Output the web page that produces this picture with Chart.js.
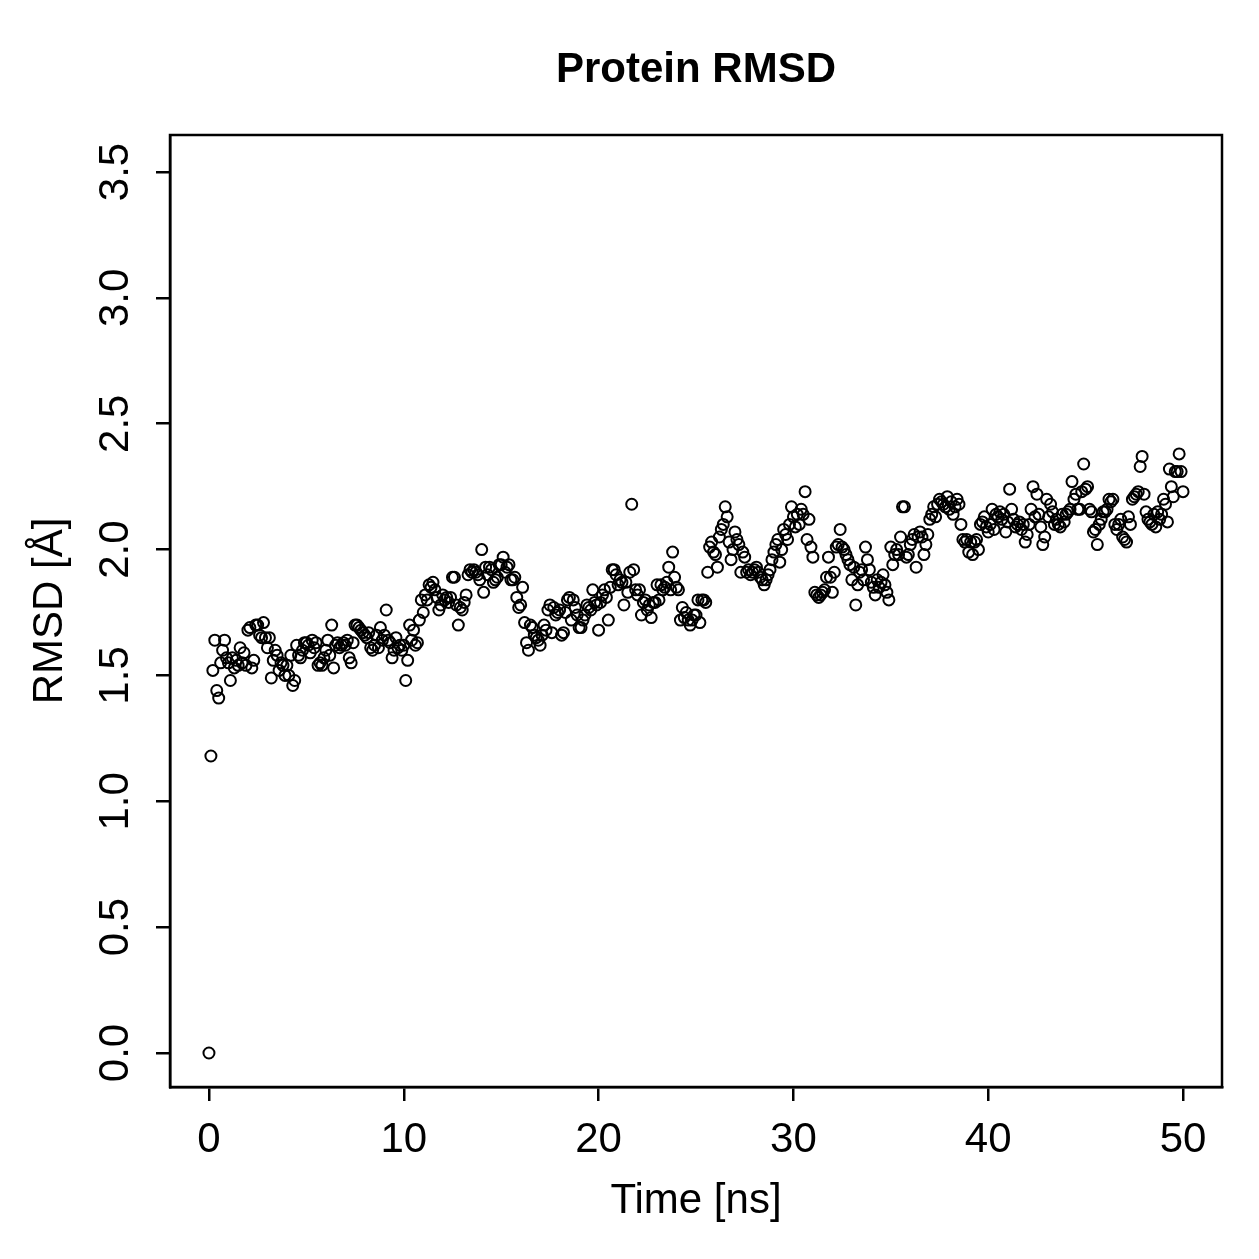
<!DOCTYPE html>
<html>
<head>
<meta charset="utf-8">
<script src="https://cdn.jsdelivr.net/npm/chart.js@4.4.0/dist/chart.umd.min.js"></script>
<style>
  html, body { margin: 0; padding: 0; background: #fff; }
  #wrap { width: 1259px; height: 1259px; }
</style>
</head>
<body>
<div id="wrap"><canvas id="chart"></canvas></div>
<script>
// RMSD values, one frame every 0.1 ns
const timeStart = 0;
const timeStep = 0.1;

const rmsd00to10 = [
  0.00, 1.18, 1.52, 1.64, 1.44, 1.41, 1.55, 1.60, 1.64, 1.57,
  1.55, 1.48, 1.57, 1.53, 1.56, 1.54, 1.61, 1.55, 1.59, 1.54,
  1.68, 1.69, 1.53, 1.56, 1.70, 1.70, 1.66, 1.65, 1.71, 1.65,
  1.61, 1.65, 1.49, 1.56, 1.60, 1.58, 1.52, 1.55, 1.54, 1.50,
  1.54, 1.50, 1.58, 1.46, 1.48, 1.62, 1.58, 1.57, 1.60, 1.63,
  1.63, 1.62, 1.59, 1.64, 1.61, 1.63, 1.54, 1.55, 1.54, 1.57,
  1.60, 1.64, 1.58, 1.70, 1.53, 1.62, 1.63, 1.61, 1.62, 1.63,
  1.62, 1.64, 1.57, 1.55, 1.63, 1.70, 1.70, 1.69, 1.68, 1.67,
  1.66, 1.65, 1.67, 1.61, 1.60, 1.62, 1.66, 1.61, 1.69, 1.64,
  1.66, 1.76, 1.64, 1.63, 1.57, 1.60, 1.65, 1.61, 1.62, 1.60
];
const rmsd10to20 = [
  1.62, 1.48, 1.56, 1.70, 1.64, 1.68, 1.62, 1.63, 1.72, 1.80,
  1.75, 1.82, 1.80, 1.86, 1.85, 1.87, 1.84, 1.81, 1.76, 1.78,
  1.82, 1.80, 1.81, 1.79, 1.81, 1.89, 1.89, 1.78, 1.70, 1.77,
  1.76, 1.79, 1.82, 1.90, 1.92, 1.91, 1.92, 1.91, 1.90, 1.88,
  2.00, 1.83, 1.93, 1.90, 1.93, 1.92, 1.87, 1.88, 1.89, 1.94,
  1.94, 1.97, 1.91, 1.93, 1.94, 1.88, 1.88, 1.89, 1.81, 1.77,
  1.78, 1.85, 1.71, 1.63, 1.60, 1.70, 1.69, 1.66, 1.65, 1.64,
  1.62, 1.66, 1.70, 1.68, 1.76, 1.78, 1.67, 1.77, 1.74, 1.75,
  1.76, 1.66, 1.67, 1.75, 1.80, 1.81, 1.72, 1.80, 1.77, 1.74,
  1.69, 1.69, 1.72, 1.74, 1.78, 1.77, 1.76, 1.84, 1.79, 1.78
];
const rmsd20to30 = [
  1.68, 1.79, 1.82, 1.84, 1.81, 1.72, 1.85, 1.92, 1.92, 1.90,
  1.86, 1.88, 1.87, 1.78, 1.87, 1.83, 1.91, 2.18, 1.92, 1.84,
  1.82, 1.84, 1.74, 1.79, 1.80, 1.76, 1.78, 1.73, 1.79, 1.79,
  1.86, 1.80, 1.86, 1.84, 1.85, 1.87, 1.93, 1.84, 1.99, 1.89,
  1.85, 1.84, 1.72, 1.77, 1.73, 1.75, 1.72, 1.70, 1.72, 1.74,
  1.74, 1.80, 1.71, 1.80, 1.80, 1.79, 1.91, 2.01, 2.03, 1.99,
  1.98, 1.93, 2.05, 2.08, 2.10, 2.17, 2.13, 2.03, 1.96, 2.00,
  2.07, 2.04, 2.02, 1.91, 1.99, 1.97, 1.91, 1.92, 1.90, 1.91,
  1.92, 1.93, 1.91, 1.89, 1.88, 1.86, 1.88, 1.90, 1.92, 1.96,
  1.99, 2.02, 2.04, 1.95, 2.00, 2.08, 2.06, 2.04, 2.10, 2.17
];
const rmsd30to40 = [
  2.13, 2.09, 2.14, 2.10, 2.16, 2.14, 2.23, 2.04, 2.12, 2.01,
  1.97, 1.83, 1.82, 1.81, 1.82, 1.83, 1.84, 1.89, 1.97, 1.89,
  1.83, 1.91, 2.01, 2.02, 2.08, 2.01, 2.00, 1.98, 1.96, 1.94,
  1.88, 1.93, 1.78, 1.86, 1.91, 1.92, 1.88, 2.01, 1.96, 1.92,
  1.87, 1.85, 1.82, 1.88, 1.85, 1.87, 1.90, 1.86, 1.83, 1.80,
  2.01, 1.94, 1.98, 2.00, 1.98, 2.05, 2.17, 2.17, 1.97, 1.98,
  2.02, 2.04, 2.06, 1.93, 2.05, 2.07, 2.05, 1.98, 2.02, 2.06,
  2.12, 2.14, 2.17, 2.13, 2.18, 2.20, 2.19, 2.18, 2.17, 2.21,
  2.16, 2.19, 2.14, 2.17, 2.20, 2.18, 2.10, 2.04, 2.03, 2.04,
  1.99, 2.03, 1.98, 2.03, 2.04, 2.00, 2.10, 2.11, 2.13, 2.09
];
const rmsd40to50 = [
  2.07, 2.10, 2.16, 2.08, 2.14, 2.13, 2.15, 2.12, 2.14, 2.07,
  2.11, 2.24, 2.16, 2.12, 2.09, 2.10, 2.11, 2.08, 2.10, 2.03,
  2.06, 2.10, 2.16, 2.25, 2.13, 2.22, 2.14, 2.09, 2.02, 2.05,
  2.20, 2.13, 2.18, 2.15, 2.10, 2.12, 2.10, 2.09, 2.14, 2.11,
  2.14, 2.15, 2.16, 2.27, 2.20, 2.22, 2.16, 2.16, 2.23, 2.34,
  2.24, 2.25, 2.16, 2.15, 2.07, 2.08, 2.02, 2.10, 2.12, 2.15,
  2.15, 2.16, 2.20, 2.19, 2.20, 2.10, 2.08, 2.10, 2.12, 2.05,
  2.04, 2.03, 2.13, 2.10, 2.20, 2.21, 2.22, 2.23, 2.33, 2.37,
  2.22, 2.15, 2.12, 2.11, 2.10, 2.14, 2.09, 2.15, 2.12, 2.14,
  2.20, 2.18, 2.11, 2.32, 2.25, 2.21, 2.31, 2.31, 2.38, 2.31,
  2.23
];

const xTicks = [0, 10, 20, 30, 40, 50];
const yTicks = [0.0, 0.5, 1.0, 1.5, 2.0, 2.5, 3.0, 3.5];

const rmsd = [].concat(rmsd00to10, rmsd10to20, rmsd20to30, rmsd30to40, rmsd40to50);
const points = rmsd.map((v, i) => ({ x: timeStart + i * timeStep, y: v }));

const FONT = '"Liberation Sans", Arial, Helvetica, sans-serif';
const FS = 42;

// R style box around the plot region
const boxPlugin = {
  id: 'box',
  afterDraw(chart) {
    const { ctx, chartArea: a } = chart;
    ctx.save();
    ctx.strokeStyle = '#000';
    ctx.lineWidth = 2.5;
    ctx.strokeRect(a.left, a.top, a.right - a.left, a.bottom - a.top);
    ctx.restore();
  }
};

const config = {
  type: 'scatter',
  data: {
    datasets: [{
      data: points,
      pointStyle: 'circle',
      pointRadius: 5.5,
      pointBorderWidth: 2,
      pointBorderColor: '#000',
      pointBackgroundColor: 'rgba(0,0,0,0)',
      pointHoverRadius: 5.5
    }]
  },
  options: {
    responsive: true,
    maintainAspectRatio: false,
    animation: false,
    events: [],
    layout: { padding: { top: 0, left: 0, right: 37, bottom: 0 } },
    plugins: {
      legend: { display: false },
      tooltip: { enabled: false },
      title: { display: false }
    },
    scales: {
      // top axis only carries the main title, centred over the plot region
      top: {
        type: 'linear',
        position: 'top',
        min: -2,
        max: 52,
        afterFit(s) { s.height = 135; },
        grid: { display: false },
        border: { display: false },
        ticks: { display: false },
        title: {
          display: true,
          text: 'Protein RMSD',
          color: '#000',
          font: { family: FONT, size: FS, weight: 'bold', lineHeight: 1.2 },
          padding: { top: 45, bottom: 0 }
        }
      },
      x: {
        type: 'linear',
        position: 'bottom',
        min: -2,
        max: 52,
        afterFit(s) { s.height = 172; },
        afterBuildTicks(s) { s.ticks = xTicks.map(v => ({ value: v })); },
        grid: { drawOnChartArea: false, drawTicks: true, tickLength: 14, color: '#000', lineWidth: 2.5 },
        border: { display: true, color: '#000', width: 2.5 },
        ticks: {
          color: '#000',
          padding: 14,
          maxRotation: 0,
          font: { family: FONT, size: FS },
          callback: v => String(v)
        },
        title: {
          display: true,
          text: 'Time [ns]',
          color: '#000',
          font: { family: FONT, size: FS, lineHeight: 1.2 },
          padding: { top: 0, bottom: 32 }
        }
      },
      y: {
        type: 'linear',
        min: -0.135,
        max: 3.647,
        afterFit(s) { s.width = 170; },
        afterBuildTicks(s) { s.ticks = yTicks.map(v => ({ value: v })); },
        grid: { drawOnChartArea: false, drawTicks: true, tickLength: 14, color: '#000', lineWidth: 2.5 },
        border: { display: true, color: '#000', width: 2.5 },
        ticks: {
          color: '#000',
          padding: 10,
          minRotation: 90,
          maxRotation: 90,
          crossAlign: 'center',
          font: { family: FONT, size: FS },
          callback: v => v.toFixed(1)
        },
        title: {
          display: true,
          text: 'RMSD [Å]',
          color: '#000',
          font: { family: FONT, size: FS, lineHeight: 1.2 },
          padding: { top: 25, bottom: 0 }
        }
      }
    }
  },
  plugins: [boxPlugin]
};

const chart = new Chart(document.getElementById('chart'), config);
</script>
</body>
</html>
